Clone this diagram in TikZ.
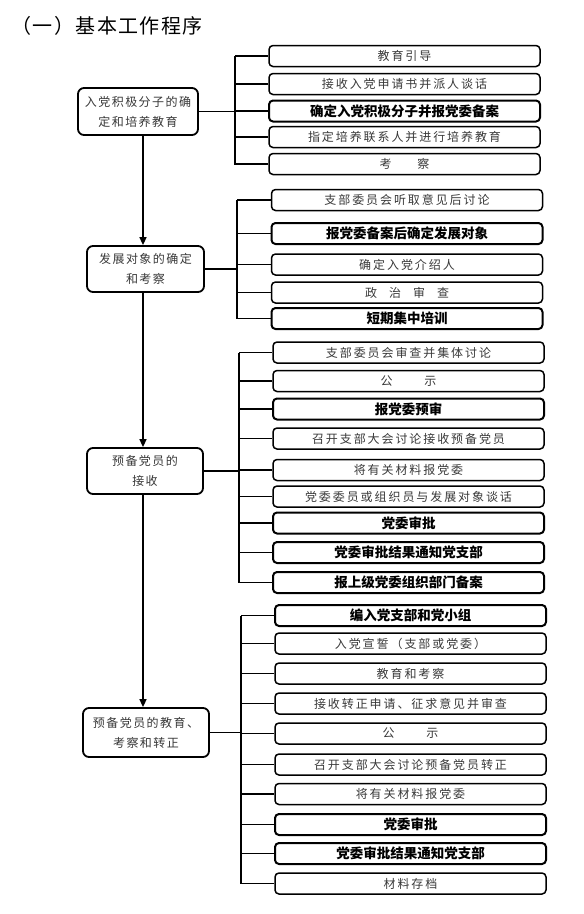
\documentclass[tikz,border=0pt]{standalone}
\usepackage{fontspec}
\usetikzlibrary{arrows.meta}
\newfontfamily\cjk[LetterSpace=16]{Noto Sans CJK SC}
\newfontfamily\cjkL[LetterSpace=12]{Noto Sans CJK SC}
\newfontfamily\cjkT[LetterSpace=7]{Noto Sans CJK SC}
\newfontfamily\cjkb{Noto Sans CJK SC}
\colorlet{txtgray}{black!78}
\tikzset{
  rbox/.style={draw, line width=1.5pt, rounded corners=4pt, minimum width=271pt, minimum height=21pt, inner sep=0pt, text=txtgray, font=\cjk\fontsize{12}{14}\selectfont},
  bbox/.style={rbox, line width=2pt, text=black, font=\cjkb\bfseries\fontsize{13.5}{15}\selectfont},
  lbox/.style={draw, line width=1.8pt, rounded corners=6pt, align=center, inner sep=0pt, text=txtgray, font=\cjkL\fontsize{12}{20}\selectfont},
  conn/.style={line width=1.8pt},
  arr/.style={line width=1.6pt, -{Triangle[length=8pt,width=7pt]}}
}
\begin{document}
\begin{tikzpicture}[x=1pt,y=-1pt]
\useasboundingbox (0,0) rectangle (584,914);
\node[anchor=west, font=\cjkT\fontsize{20}{22}\selectfont] (title) at (8,26) {（一）基本工作程序};

% left boxes
\node[lbox, minimum width=120pt, minimum height=47pt] (l1) at (138,111.5) {入党积极分子的确\\定和培养教育};
\node[lbox, minimum width=117pt, minimum height=46pt] (l2) at (145.5,269) {发展对象的确定\\和考察};
\node[lbox, minimum width=116pt, minimum height=46pt] (l3) at (145,471) {预备党员的\\接收};
\node[lbox, minimum width=126pt, minimum height=49pt] (l4) at (146,732.5) {预备党员的教育、\\考察和转正};

\coordinate (ax) at (143,0);
\draw[arr] (l1.south -| ax) -- (l2.north -| ax);
\draw[arr] (l2.south -| ax) -- (l3.north -| ax);
\draw[arr] (l3.south -| ax) -- (l4.north -| ax);

% group 1
\coordinate (t1) at (235,56);
\draw[conn] (l1.east) -- (l1.east -| t1);
\foreach \i/\y/\s/\t in {1/56/rbox/教育引导, 2/84/rbox/接收入党申请书并派人谈话, 3/111/bbox/确定入党积极分子并报党委备案, 4/137/rbox/指定培养联系人并进行培养教育, 5/164/rbox/{考\hspace{26pt}察}}{
  \node[\s] (a\i) at (404.5,\y) {\t};
  \draw[conn] (t1) |- (a\i.west);
}

% group 2
\coordinate (t2) at (237,200);
\draw[conn] (l2.east) -- (l2.east -| t2);
\foreach \i/\y/\s/\t in {1/200/rbox/支部委员会听取意见后讨论, 2/233.5/bbox/报党委备案后确定发展对象, 3/264.5/rbox/确定入党介绍人, 4/292.5/rbox/{政\hspace{12pt}治\hspace{12pt}审\hspace{12pt}查}, 5/318.5/bbox/短期集中培训}{
  \node[\s] (b\i) at (407,\y) {\t};
  \draw[conn] (t2) |- (b\i.west);
}

% group 3
\coordinate (t3) at (239,352.5);
\draw[conn] (l3.east) -- (l3.east -| t3);
\foreach \i/\y/\s/\t in {1/352.5/rbox/支部委员会审查并集体讨论, 2/381/rbox/{公\hspace{32pt}示}, 3/409/bbox/报党委预审, 4/438.5/rbox/召开支部大会讨论接收预备党员, 5/470/rbox/将有关材料报党委, 6/496.5/rbox/党委委员或组织员与发展对象谈话, 7/523/bbox/党委审批, 8/552.5/bbox/党委审批结果通知党支部, 9/582.5/bbox/报上级党委组织部门备案}{
  \node[\s] (c\i) at (408.5,\y) {\t};
  \draw[conn] (t3) |- (c\i.west);
}

% group 4
\coordinate (t4) at (241,615.5);
\draw[conn] (l4.east) -- (l4.east -| t4);
\foreach \i/\y/\s/\t in {1/615.5/bbox/编入党支部和党小组, 2/643.5/rbox/入党宣誓（支部或党委）, 3/673.5/rbox/教育和考察, 4/703.5/rbox/接收转正申请、征求意见并审查, 5/733.5/rbox/{公\hspace{32pt}示}, 6/764.5/rbox/召开支部大会讨论预备党员转正, 7/794/rbox/将有关材料报党委, 8/824.5/bbox/党委审批, 9/853.5/bbox/党委审批结果通知党支部, 10/883.5/rbox/材料存档}{
  \node[\s] (d\i) at (410.5,\y) {\t};
  \draw[conn] (t4) |- (d\i.west);
}
\end{tikzpicture}
\end{document}
